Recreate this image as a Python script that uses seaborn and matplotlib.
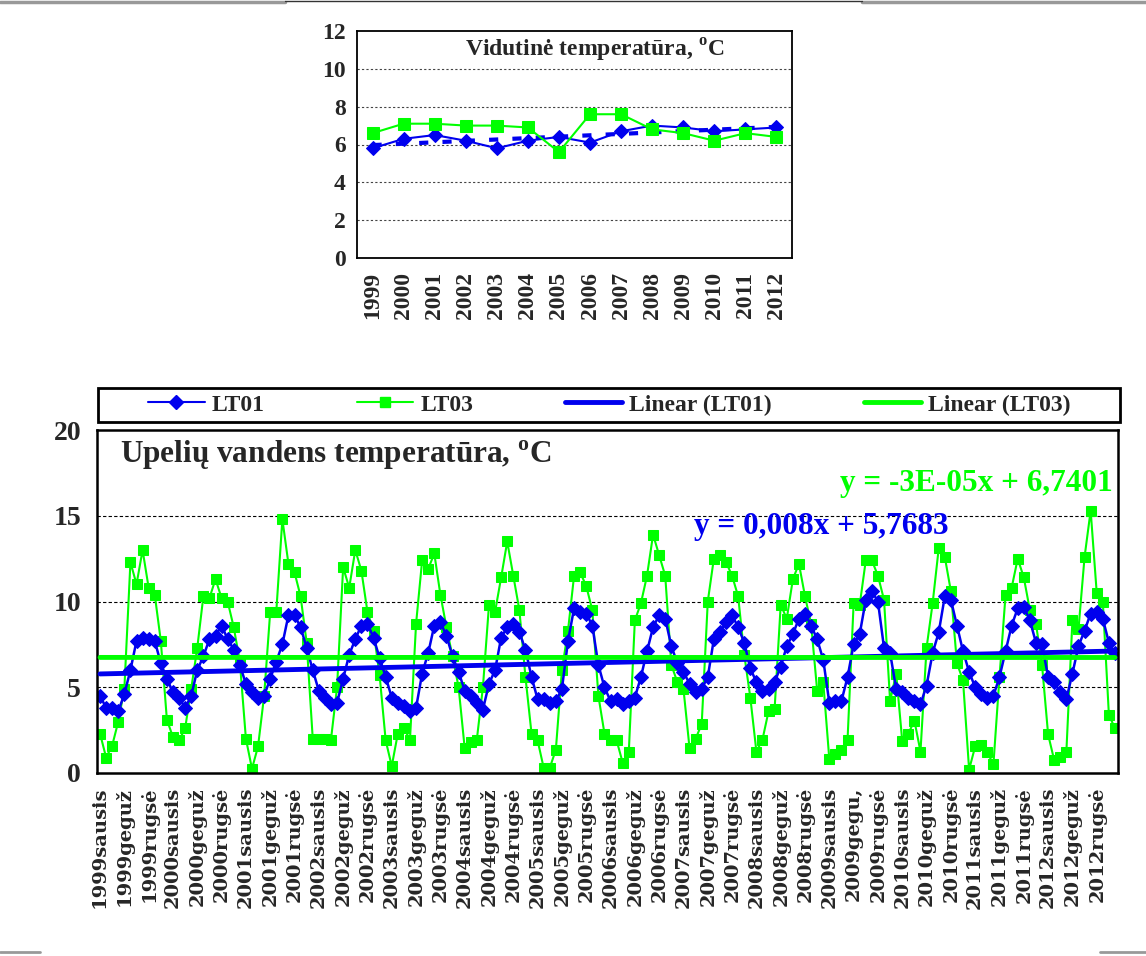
import numpy as np
import matplotlib
matplotlib.use("Agg")
import matplotlib.pyplot as plt
from matplotlib.lines import Line2D
from matplotlib.patches import Rectangle
import seaborn as sns

# yearly means (top chart)
years = list(range(1999, 2013))
year_lt01 = [5.8, 6.3, 6.5, 6.2, 5.8, 6.2, 6.4, 6.1, 6.7, 7.0, 6.9, 6.7, 6.8, 6.9]
year_lt03 = [6.6, 7.1, 7.1, 7.0, 7.0, 6.9, 5.6, 7.6, 7.6, 6.8, 6.6, 6.2, 6.6, 6.4]

# monthly values 1999-2012 (bottom chart)
lt01 = [
    4.5, 3.8, 3.8, 3.6, 4.6, 6.0, 7.7, 7.9, 7.8, 7.7, 6.4, 5.5,
    4.7, 4.4, 3.8, 4.5, 6.0, 6.8, 7.8, 8.0, 8.6, 7.8, 7.2, 6.3,
    5.2, 4.7, 4.4, 4.5, 5.5, 6.5, 7.5, 9.2, 9.2, 8.5, 7.3, 6.0,
    4.8, 4.4, 4.0, 4.1, 5.5, 6.9, 7.8, 8.6, 8.7, 7.9, 6.7, 5.6,
    4.4, 4.1, 3.9, 3.6, 3.8, 5.8, 7.0, 8.6, 8.8, 8.0, 6.8, 5.9,
    4.8, 4.5, 4.1, 3.7, 5.2, 6.0, 7.9, 8.5, 8.7, 8.2, 7.2, 5.6,
    4.3, 4.3, 4.1, 4.2, 4.9, 7.7, 9.6, 9.4, 9.3, 8.6, 6.3, 5.0,
    4.2, 4.3, 4.0, 4.2, 4.4, 5.6, 7.1, 8.5, 9.2, 9.0, 7.4, 6.4,
    5.9, 5.2, 4.7, 4.9, 5.6, 7.8, 8.2, 8.8, 9.2, 8.5, 7.6, 6.1,
    5.3, 4.8, 4.9, 5.3, 6.2, 7.4, 8.1, 9.0, 9.3, 8.6, 7.8, 6.6,
    4.1, 4.2, 4.2, 5.6, 7.5, 8.1, 10.1, 10.6, 10.0, 7.3, 7.0, 4.9,
    4.7, 4.4, 4.2, 4.0, 5.1, 7.0, 8.2, 10.3, 10.1, 8.6, 7.1, 5.9,
    5.0, 4.6, 4.4, 4.5, 5.6, 7.1, 8.6, 9.6, 9.7, 8.9, 7.6, 7.5,
    5.6, 5.3, 4.7, 4.3, 5.8, 7.4, 8.3, 9.3, 9.4, 9.0, 7.6, 7.0,
]
lt03 = [
    2.3, 0.9, 1.6, 3.0, 4.9, 12.3, 11.0, 13.0, 10.8, 10.4, 7.7, 3.1,
    2.1, 1.9, 2.6, 4.9, 7.3, 10.3, 10.2, 11.3, 10.2, 10.0, 8.5, 6.5,
    2.0, 0.25, 1.55, 4.5, 9.4, 9.4, 14.8, 12.2, 11.7, 10.3, 7.6, 2.0,
    2.0, 2.0, 1.95, 5.0, 12.0, 10.8, 13.0, 11.8, 9.4, 8.3, 5.7, 1.9,
    0.4, 2.3, 2.6, 1.95, 8.7, 12.4, 11.9, 12.8, 10.4, 8.5, 6.8, 5.0,
    1.45, 1.8, 1.95, 5.0, 9.8, 9.4, 11.4, 13.5, 11.5, 9.5, 5.6, 2.3,
    1.9, 0.3, 0.3, 1.35, 6.0, 8.3, 11.5, 11.7, 10.9, 9.5, 4.5, 2.3,
    1.95, 1.9, 0.6, 1.2, 8.9, 9.9, 11.5, 13.9, 12.7, 11.5, 6.3, 5.3,
    4.9, 1.45, 2.0, 2.85, 10.0, 12.5, 12.7, 12.3, 11.5, 10.3, 6.9, 4.4,
    1.25, 1.95, 3.6, 3.75, 9.8, 9.0, 11.3, 12.2, 10.3, 8.7, 4.8, 5.3,
    0.8, 1.1, 1.35, 1.95, 9.9, 9.8, 12.4, 12.4, 11.5, 10.1, 4.2, 5.8,
    1.85, 2.3, 3.05, 1.25, 7.3, 9.9, 13.1, 12.6, 10.6, 6.4, 5.4, 0.2,
    1.55, 1.65, 1.2, 0.5, 5.6, 10.4, 10.8, 12.5, 11.4, 9.5, 8.7, 6.3,
    2.25, 0.75, 0.95, 1.2, 8.9, 8.4, 12.6, 15.3, 10.5, 10.0, 3.4, 2.6,
]

# trend line coefficients as printed on the chart (x = 1..168)
trend01 = (0.008, 5.7683)
trend03 = (-3e-05, 6.7401)

month_names = ["sausis", "geguž", "rugsė"]
tick_labels = [f"{y}{m}" for y in years for m in month_names]
tick_labels[tick_labels.index("2009geguž")] = "2009gegu,"

BLUE = "#0000EE"
GREEN = "#00FF00"

sns.set_style("white")
plt.rcParams["font.family"] = ["Liberation Serif", "DejaVu Serif"]
plt.rcParams["font.weight"] = "bold"
plt.rcParams["mathtext.fontset"] = "custom"
plt.rcParams["mathtext.rm"] = "Liberation Serif:bold"
plt.rcParams["mathtext.bf"] = "Liberation Serif:bold"

W, H = 1146, 956
fig = plt.figure(figsize=(W / 100, H / 100), dpi=100)


def frac(x0, y0, x1, y1):
    return [x0 / W, 1 - y1 / H, (x1 - x0) / W, (y1 - y0) / H]


# ---------------- top chart ----------------
ax1 = fig.add_axes(frac(357, 31, 792, 258))
xi = np.arange(len(years))
sns.lineplot(x=xi, y=year_lt01, ax=ax1, color=BLUE, marker="D", markersize=7,
             markeredgecolor=BLUE, linewidth=1.5)
sns.lineplot(x=xi, y=year_lt03, ax=ax1, color=GREEN, marker="s", markersize=8,
             markeredgecolor=GREEN, linewidth=1.5)
p = np.polyfit(xi, year_lt01, 1)
ax1.plot(xi, np.polyval(p, xi), color=BLUE, lw=3, ls=(0, (2.2, 3.4)), zorder=1)
ax1.set_xlim(-0.5, len(years) - 0.5)
ax1.set_ylim(0, 12)
ax1.set_yticks(range(0, 13, 2))
ax1.set_yticklabels([str(v) for v in range(0, 13, 2)], fontsize=17, fontweight="bold")
ax1.set_xticks(np.arange(-0.5, len(years)), minor=False)
ax1.set_xticklabels([])
ax1.set_xticks(xi, minor=True)
ax1.set_xticklabels([str(y) for y in years], minor=True, rotation=90,
                    fontsize=17, fontweight="bold")
ax1.tick_params(axis="x", which="major", direction="out", length=7, width=1.5)
ax1.tick_params(axis="x", which="minor", length=0, pad=10)
ax1.tick_params(axis="y", direction="out", length=5, width=1.5, pad=3)
for v in range(2, 12, 2):
    ax1.axhline(v, color="#444444", lw=0.8, ls=(0, (2, 2)), zorder=0)
for s in ax1.spines.values():
    s.set_linewidth(1.3)
    s.set_color("black")
ax1.set_xlabel("")
ax1.set_ylabel("")
ax1.text(0.547, 0.915, r"Vidutinė temperatūra, $^{\mathrm{o}}$C", transform=ax1.transAxes,
         ha="center", va="center", fontsize=17, fontweight="bold")

# ---------------- bottom chart ----------------
ax2 = fig.add_axes(frac(97, 430, 1118, 773))
n = len(lt01)
idx = np.arange(n)
xs = idx + 1
ax2.plot(idx, trend01[0] * xs + trend01[1], color=BLUE, lw=3.5, zorder=3)
ax2.plot(idx, trend03[0] * xs + trend03[1], color=GREEN, lw=3.5, zorder=3)
sns.lineplot(x=idx, y=lt03, ax=ax2, color=GREEN, marker="s", markersize=7.5,
             markeredgecolor=GREEN, linewidth=1.5)
sns.lineplot(x=idx, y=lt01, ax=ax2, color=BLUE, marker="D", markersize=7,
             markeredgecolor=BLUE, linewidth=1.8)
ax2.set_xlim(-0.5, n - 0.5)
ax2.set_ylim(0, 20)
ax2.set_yticks([0, 5, 10, 15, 20])
ax2.set_yticklabels(["0", "5", "10", "15", "20"], fontsize=20, fontweight="bold")
ax2.set_xticks(np.arange(-0.5, n), minor=False)
ax2.set_xticklabels([])
ax2.set_xticks(idx[::4], minor=True)
ax2.set_xticklabels(tick_labels, minor=True, rotation=90, fontsize=14,
                    fontweight="bold", family=["DejaVu Serif"])
ax2.tick_params(axis="x", which="major", direction="inout", length=10, width=1.4)
ax2.tick_params(axis="x", which="minor", length=0, pad=10)
ax2.tick_params(axis="y", direction="inout", length=11, width=2, pad=6)
for v in (5, 10, 15):
    ax2.axhline(v, color="black", lw=0.8, ls=(0, (3, 2)), zorder=0)
for s in ax2.spines.values():
    s.set_linewidth(1.8)
    s.set_color("black")
ax2.set_xlabel("")
ax2.set_ylabel("")
ax2.text(0.0225, 0.927, r"Upelių vandens temperatūra, $^{\mathrm{o}}$C",
         transform=ax2.transAxes, ha="left", va="center", fontsize=22.5,
         fontweight="bold")
ax2.text(0.995, 0.845, "y = -3E-05x + 6,7401", transform=ax2.transAxes,
         ha="right", va="center", fontsize=22.5, fontweight="bold", color=GREEN)
ax2.text(0.585, 0.72, "y = 0,008x + 5,7683", transform=ax2.transAxes,
         ha="left", va="center", fontsize=22.5, fontweight="bold", color=BLUE)

# ---------------- legend ----------------
fig.add_artist(Rectangle((98 / W, 1 - 422 / H), (1120 - 98) / W, 34 / H,
                         transform=fig.transFigure, fill=False, lw=2,
                         edgecolor="black"))
handles = [
    Line2D([0], [0], color=BLUE, marker="D", markersize=7, lw=1.5),
    Line2D([0], [0], color=GREEN, marker="s", markersize=7, lw=1.5),
    Line2D([0], [0], color=BLUE, lw=3.5),
    Line2D([0], [0], color=GREEN, lw=3.5),
]
labels = ["LT01", "LT03", "Linear (LT01)", "Linear (LT03)"]
fig.legend(handles, labels, loc="center", bbox_to_anchor=(609 / W, 1 - 405 / H),
           ncol=4, frameon=False, handlelength=2.4,
           handletextpad=0.3, columnspacing=3.9,
           prop={"weight": "bold", "size": 17})

# outer border fragments
fig.add_artist(Line2D([0, 285 / W], [1 - 2 / H] * 2, color="#999999", lw=2.5))
fig.add_artist(Line2D([862 / W, 1], [1 - 2 / H] * 2, color="#999999", lw=2.5))
fig.add_artist(Line2D([285 / W, 862 / W], [1 - 1 / H] * 2, color="#333333", lw=1))
fig.add_artist(Line2D([0, 40 / W], [4 / H] * 2, color="#999999", lw=2))
fig.add_artist(Line2D([1100 / W, 1], [4 / H] * 2, color="#999999", lw=2))

fig.savefig("out.png", dpi=100)
